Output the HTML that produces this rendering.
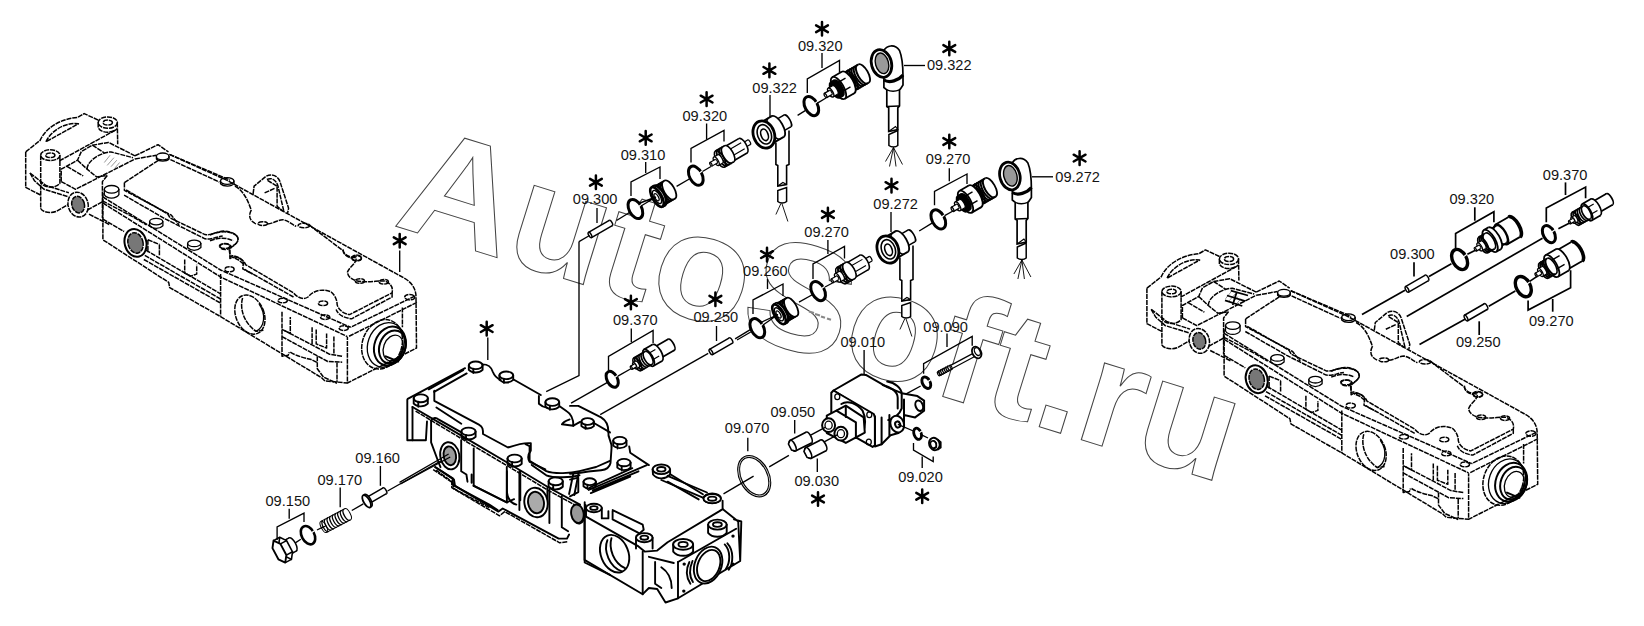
<!DOCTYPE html>
<html><head><meta charset="utf-8"><title>diagram</title>
<style>
html,body{margin:0;padding:0;background:#fff;}
body{width:1644px;height:626px;overflow:hidden;font-family:"Liberation Sans",sans-serif;}
svg{display:block}
.wm{font-family:"Liberation Sans",sans-serif;font-size:152px;font-weight:bold;fill:none;stroke:#444;stroke-width:1}
.lb{font-family:"Liberation Sans",sans-serif;font-size:14.6px;fill:#111}
.st{stroke:#000;stroke-width:2.5;fill:none;stroke-linecap:round}
.s{stroke:#000;stroke-width:1.3;fill:none;stroke-linejoin:round;stroke-linecap:round}
.sw{stroke:#000;stroke-width:1.3;fill:#fff;stroke-linejoin:round;stroke-linecap:round}
.t{stroke:#000;stroke-width:1.35;fill:none}
.d{stroke:#000;stroke-width:1.5;fill:none;stroke-dasharray:5 0.9;stroke-linejoin:round}
.dw{stroke:#000;stroke-width:1.5;fill:#fff;stroke-dasharray:5 0.9;stroke-linejoin:round}
.k{stroke:#000;stroke-width:2;fill:none;stroke-linejoin:round;stroke-linecap:round}
.kw{stroke:#000;stroke-width:2;fill:#fff;stroke-linejoin:round;stroke-linecap:round}
.f{fill:#000;stroke:none}
.r{stroke:#000;stroke-width:1.7;fill:none}
.c{stroke:#000;stroke-width:1.9;fill:none;stroke-linejoin:round;stroke-linecap:round}
.cw{stroke:#000;stroke-width:1.9;fill:#fff;stroke-linejoin:round}
</style></head><body>
<svg width="1644" height="626" viewBox="0 0 1644 626">
<rect width="1644" height="626" fill="#fff"/>
<text class="wm" transform="translate(392,225) rotate(17.3) scale(1.04,1)" x="0" y="0">AutoSoft.ru</text>
<g id="lb">
<path class="d" d="M 25.7 151.9 L 25.7 187.4 L 40.7 195.1" />
<path class="d" d="M 25.7 151.9 L 40.1 140.4 C 45.9 127.0 62.2 118.4 77.5 117.5 L 84.2 113.6 L 98.6 120.3" />
<path class="d" d="M 45.9 141.8 C 51.6 129.9 66.0 121.9 78.4 123.8 L 45.9 141.8" />
<ellipse class="d" cx="107.8" cy="122.6" rx="9.6" ry="5.7" />
<ellipse class="d" cx="107.8" cy="122.6" rx="4.6" ry="2.5" />
<path class="d" d="M 98.2 122.6 L 98.2 127.6 C 100.5 133.4 112.9 133.7 117.3 128.4" />
<path class="d" d="M 117.3 122.6 L 117.7 144.3" />
<path class="d" d="M 59.3 160.9 L 115.8 129.9" />
<ellipse class="d" cx="50.3" cy="155.2" rx="9.6" ry="5.4" />
<ellipse class="d" cx="50.3" cy="155.2" rx="4.6" ry="2.3" />
<path class="d" d="M 40.7 155.2 L 40.7 208.5 C 43.0 212.7 50.7 213.4 56.4 211.3 L 67.9 204.6" />
<path class="d" d="M 59.9 155.2 L 59.9 183.2 C 56.4 188.5 44.0 188.5 40.7 182.6" />
<path class="d" d="M 30.0 173.0 L 45.9 185.5 L 68.9 192.8" />
<path class="d" d="M 30.0 173.0 L 34.4 180.7 L 44.0 189.3 L 67.9 196.6" />
<path class="d" d="M 61.2 181.6 L 61.2 169.2 L 77.5 160.2 L 81.3 151.6 L 92.4 145.2 L 108.5 142.4 L 135.0 155.8" />
<path class="d" d="M 61.2 181.6 L 75.6 189.3 L 135.0 159.0" />
<path class="d" d="M 77.5 160.2 L 87.1 169.2 L 96.6 176.9 L 107.2 175.5" />
<path class="d" d="M 87.1 169.2 C 87.1 160.6 100.5 152.5 111.0 151.9 L 133.0 157.7" />
<path class="d" d="M 92.4 145.2 L 104.3 152.9" />
<path class="d" d="M 66.9 166.3 L 83.2 175.9" />
<g stroke="#999" stroke-width="1" fill="none">
<path class="" d="M 104.3 162.5 L 110.1 155.2 M 107.2 165.4 L 113.9 157.7 M 111.0 166.7 L 116.8 160.2 M 114.8 168.2 L 119.6 162.5" />
</g>
<ellipse class="dw" cx="78.1" cy="204.6" rx="10.0" ry="12.6" transform="rotate(-15 78.1 204.6)" />
<ellipse class="d" cx="78.1" cy="204.6" rx="6.3" ry="8.4" transform="rotate(-15 78.1 204.6)" style="fill:#777"/>
<path class="d" d="M 87.4 210.0 L 102.4 201.8" />
<path class="d" d="M 89.0 214.2 L 110.1 224.9" />
<path class="d" d="M 107.2 175.5 L 102.4 181.6 L 102.4 218.0" />
<ellipse class="s" cx="111.6" cy="189.3" rx="7.3" ry="3.8" />
<path class="s" d="M 104.3 189.3 L 104.3 194.7 C 107.2 199.3 115.8 199.3 118.9 194.7 L 118.9 189.3" />
<path class="d" d="M 135.0 155.8 L 158.0 144.7 L 168.5 151.9" />
<ellipse class="s" cx="162.7" cy="156.4" rx="6.3" ry="3.4" />
<path class="s" d="M 156.4 156.4 L 156.4 159.0 C 158.9 161.7 166.6 161.7 169.1 159.0 L 169.1 156.4" />
<path class="d" d="M 169.5 154.4 L 230.0 180.1" />
<path class="d" d="M 170.4 159.6 L 219.3 182.0" />
<path class="d" d="M 135.0 159.0 L 156.4 155.2" />
<path class="d" d="M 124.4 182.6 L 158.0 160.6" />
<path class="d" d="M 124.4 182.6 L 124.4 190.3 L 171.4 215.2 L 179.0 224.9" />
<path class="d" d="M 102.4 200.8 L 135.0 218.0 L 146.5 224.9" />
<path class="d" d="M 169.5 154.4 L 227.2 180.4 L 380.5 265.0 L 404.0 278.0 C 413.0 283.0 416.0 290.0 416.0 297.0 L 416.5 348.0 L 347.4 383.0 L 347.4 337.0" />
<ellipse class="s" cx="227.2" cy="181.0" rx="6.7" ry="3.4" />
<path class="s" d="M 220.5 181.0 L 220.5 183.7 C 223.4 186.8 231.5 186.8 234.0 183.7 L 234.0 181.0" />
<path class="d" d="M 234.9 186.2 C 242.6 190.0 247.4 198.7 251.2 210.1 C 248.3 215.9 249.3 220.7 256.0 223.9" />
<ellipse class="d" cx="262.7" cy="223.6" rx="4.8" ry="1.9" />
<path class="d" d="M 267.5 223.9 C 273.2 223.6 277.1 220.1 282.8 219.7 C 288.6 220.7 291.4 224.5 296.2 226.4" />
<ellipse class="d" cx="303.9" cy="225.5" rx="5.7" ry="2.3" />
<path class="d" d="M 309.6 225.1 L 313.5 228.3 L 343.2 250.8 C 343.2 254.2 347.0 257.1 352.7 258.4" />
<ellipse class="d" cx="356.6" cy="258.0" rx="4.8" ry="2.9" />
<path class="d" d="M 253.1 193.9 L 254.1 186.2 L 265.6 176.6 C 270.4 173.4 277.1 174.7 279.9 181.4 L 288.6 208.2 L 287.6 213.0" />
<path class="d" d="M 266.9 179.5 C 271.3 177.2 276.1 179.5 278.0 186.2 L 283.8 211.1" />
<path class="d" d="M 267.5 180.4 L 277.1 186.2 L 277.1 206.3 L 282.8 211.1" />
<path class="d" d="M 264.6 192.9 L 275.1 188.1" />
<path class="d" d="M 210.0 235.1 C 217.7 231.2 229.2 230.3 235.9 235.1 C 240.7 239.3 236.8 244.6 231.1 246.6" />
<ellipse class="d" cx="225.3" cy="246.6" rx="5.4" ry="2.9" />
<path class="d" d="M 210.0 240.8 C 217.7 237.4 227.2 237.4 233.0 240.8" />
<path class="d" d="M 229.2 249.4 L 230.1 256.1 L 238.7 260.0 L 244.5 264.9" />
<path class="d" d="M 102.9 197.0 L 220.6 270.0 L 350.5 327.3" />
<path class="d" d="M 102.9 203.0 L 220.6 277.0 L 347.4 336.6" />
<path class="d" d="M 102.9 193.0 L 102.9 239.8 L 168.7 282.4 L 169.7 287.6 L 220.6 316.6 L 321.6 377.7 L 325.0 381.0 L 347.4 383.0" />
<path class="d" d="M 102.9 219.1 L 124.1 231.5" />
<ellipse class="sw" cx="135.5" cy="242.9" rx="10.8" ry="14.1" transform="rotate(-15 135.5 242.9)" style="stroke-width:2"/>
<ellipse class="d" cx="135.5" cy="242.9" rx="7.5" ry="10.4" transform="rotate(-15 135.5 242.9)" style="fill:#777"/>
<path class="d" d="M 145.9 250.2 L 220.6 293.8" />
<path class="d" d="M 144.8 255.4 L 220.6 299.0" />
<path class="d" d="M 143.8 259.5 L 220.6 303.1" />
<path class="d" d="M 147.9 239.8 L 147.9 252.3 M 159.4 244.4 L 159.4 256.0 M 147.9 239.8 L 159.4 244.4" />
<path class="d" d="M 184.7 259.5 L 184.7 273.0 L 190.5 276.2 L 196.7 274.1 L 196.7 264.7" />
<path class="d" d="M 220.6 274.1 L 220.6 316.6" />
<path class="d" d="M 126.1 190.0 L 167.7 213.9 L 170.2 218.0 L 205.0 234.6 C 211.3 235.7 215.4 231.5 223.7 231.1 C 234.1 231.5 240.3 236.7 237.2 241.9 C 235.1 245.6 232.0 246.1 229.9 249.2 L 229.9 258.5 C 235.1 255.4 241.4 257.5 243.4 262.7 L 242.8 268.9 L 252.8 274.1" />
<path class="d" d="M 124.1 195.2 L 165.6 219.1 L 205.0 238.8 C 211.3 239.8 216.4 236.7 222.7 236.1" />
<ellipse class="d" cx="224.7" cy="246.1" rx="5.2" ry="2.5" />
<ellipse class="d" cx="229.5" cy="269.3" rx="4.6" ry="2.5" />
<ellipse class="s" cx="156.2" cy="221.6" rx="6.6" ry="3.3" />
<path class="s" d="M 149.6 221.6 L 149.6 225.7 C 153.1 229.4 159.4 229.4 162.9 225.7 L 162.9 221.6" />
<ellipse class="s" cx="194.2" cy="243.4" rx="6.6" ry="3.3" />
<path class="s" d="M 187.6 243.4 L 187.6 247.5 C 191.1 251.2 197.3 251.2 200.9 247.5 L 200.9 243.4" />
<path class="d" d="M 343.3 249.3 C 342.3 254.4 349.6 257.6 355.8 257.6 C 357.9 262.7 349.6 265.9 347.5 272.1 C 347.5 277.3 353.7 281.4 362.0 281.4 C 370.3 282.5 378.6 280.4 384.9 281.0 C 391.1 283.5 393.2 287.7 392.1 292.8 L 349.6 314.6 C 343.3 313.6 338.1 309.5 337.1 304.3 C 337.1 299.1 334.0 293.9 330.9 291.8 C 322.6 288.7 314.3 289.7 308.0 297.0 C 303.9 300.1 297.7 298.0 293.5 292.8 L 245.8 264.8 C 242.6 258.6 237.5 256.5 231.2 255.5" />
<path class="d" d="M 392.1 292.8 L 392.1 297.0 L 351.6 318.8 C 343.3 317.8 338.1 314.6 336.1 309.5" />
<path class="d" d="M 293.5 297.0 L 244.7 269.4" />
<ellipse class="d" cx="356.8" cy="258.2" rx="4.6" ry="2.3" />
<ellipse class="d" cx="359.9" cy="281.0" rx="4.6" ry="2.3" />
<ellipse class="d" cx="383.8" cy="281.8" rx="4.6" ry="2.3" />
<ellipse class="d" cx="282.7" cy="300.5" rx="4.6" ry="2.3" />
<ellipse class="d" cx="323.0" cy="303.2" rx="4.6" ry="2.3" />
<ellipse class="d" cx="325.1" cy="317.1" rx="4.6" ry="2.3" />
<ellipse class="d" cx="343.7" cy="328.1" rx="4.6" ry="2.3" />
<ellipse class="d" cx="249.9" cy="314.6" rx="14.1" ry="20.3" transform="rotate(-22 249.9 314.6)" />
<path class="d" d="M 242.6 298.0 C 239.5 308.4 243.7 323.0 256.1 331.3 L 263.4 330.2" />
<path class="s" d="M 256.1 331.3 C 264.4 327.1 266.5 314.6 259.3 304.3" />
<path class="d" d="M 416.9 302.4 L 348.4 336.6" />
<path class="d" d="M 414.9 296.1 L 350.5 327.3" />
<ellipse class="d" cx="409.7" cy="297.2" rx="5.0" ry="2.7" />
<path class="d" d="M 402.4 307.6 L 402.4 327.3" />
<path class="d" d="M 282.0 311.7 L 282.0 356.3 L 288.2 355.3 L 289.3 352.2" />
<path class="d" d="M 282.0 329.4 L 290.3 333.5 L 290.3 316.9" />
<path class="d" d="M 282.0 336.6 L 327.7 361.5 L 342.2 362.2" />
<path class="d" d="M 284.1 330.4 L 312.1 344.9 L 329.7 354.3 L 342.2 356.3" />
<path class="d" d="M 312.1 327.3 L 312.1 344.9" />
<path class="d" d="M 316.2 329.4 L 316.2 343.9 L 326.6 348.0 L 326.6 333.5" />
<path class="d" d="M 333.9 336.6 L 333.9 354.3" />
<path class="d" d="M 317.3 356.3 L 317.3 368.8 L 323.5 377.1 L 337.0 383.3" />
<path class="d" d="M 290.3 352.2 C 296.5 356.3 306.9 358.4 311.1 359.5 L 317.3 362.6" />
<path class="d" d="M 337.0 362.6 L 337.0 382.3" />
<ellipse class="d" cx="382.1" cy="344.3" rx="19.7" ry="25.3" transform="rotate(20 382.1 344.3)" />
<ellipse class="s" cx="385.8" cy="344.9" rx="17.9" ry="22.8" transform="rotate(20 385.8 344.9)" />
<ellipse class="k" cx="389.9" cy="346.0" rx="15.4" ry="19.9" transform="rotate(20 389.9 346.0)" />
<ellipse class="k" cx="392.4" cy="347.0" rx="12.9" ry="17.0" transform="rotate(20 392.4 347.0)" />
<ellipse class="s" cx="393.1" cy="348.0" rx="9.5" ry="13.3" transform="rotate(20 393.1 348.0)" />
<path class="k" d="M 385.8 356.3 L 398.2 361.5 M 387.9 362.6 C 394.1 364.6 400.3 358.4 403.4 348.0" />
</g>
<g id="cb">
<path class="c" d="M 407.3 399.7 L 407.3 440.2 L 412.5 440.2" />
<path class="c" d="M 412.5 407.0 L 412.5 440.2 L 425.9 440.2 L 427.0 421.5" />
<path class="c" d="M 434.3 390.8 L 434.3 400.8 L 478.9 424.6 C 483.0 426.7 483.0 429.8 483.0 434.0 L 508.0 447.5 C 516.3 444.8 524.6 442.3 530.8 443.3 L 530.8 450.6 C 527.7 454.7 527.7 458.9 529.7 462.0 L 545.3 469.3" />
<path class="c" d="M 412.5 407.0 L 462.3 436.1 L 508.0 463.0 L 549.5 488.0 L 580.0 504.6" />
<path class="d" d="M 415.6 411.1 L 462.3 439.2 L 508.0 466.2 L 549.5 491.1 L 580.0 507.7" />
<path class="c" d="M 431.1 420.5 C 433.2 417.4 436.3 417.4 438.4 419.4 L 462.3 432.9" />
<path class="c" d="M 431.1 420.5 L 431.1 442.3 L 438.4 462.0 L 440.5 467.2" />
<ellipse class="cw" cx="420.8" cy="398.3" rx="7.1" ry="3.9" />
<path class="c" d="M 413.7 398.3 L 413.7 403.7 C 417.2 407.2 424.3 407.2 427.8 403.7 L 427.8 398.3 M 418.3 401.8 L 418.3 406.8" />
<ellipse class="cw" cx="468.5" cy="431.5" rx="7.1" ry="3.9" />
<path class="c" d="M 461.4 431.5 L 461.4 436.9 C 465.0 440.4 472.0 440.4 475.6 436.9 L 475.6 431.5 M 466.0 435.0 L 466.0 440.1" />
<ellipse class="cw" cx="514.6" cy="458.5" rx="7.1" ry="3.9" />
<path class="c" d="M 507.5 458.5 L 507.5 463.9 C 511.1 467.4 518.1 467.4 521.7 463.9 L 521.7 458.5 M 512.1 462.0 L 512.1 467.0" />
<ellipse class="cw" cx="555.7" cy="481.3" rx="7.1" ry="3.9" />
<path class="c" d="M 548.6 481.3 L 548.6 486.7 C 552.2 490.2 559.2 490.2 562.8 486.7 L 562.8 481.3 M 553.2 484.8 L 553.2 489.9" />
<path class="c" d="M 461.2 440.2 L 461.2 471.3 L 466.4 474.5 L 467.5 481.7 M 471.6 474.5 L 471.6 482.8 M 473.7 448.5 L 473.7 485.9" />
<ellipse class="cw" cx="449.8" cy="455.8" rx="9.5" ry="13.7" transform="rotate(-10 449.8 455.8)" />
<ellipse class="c" cx="449.8" cy="455.8" rx="6.2" ry="9.5" transform="rotate(-10 449.8 455.8)" style="fill:#999"/>
<path class="s" d="M 400.0 482.1 L 448.2 454.3 M 401.0 483.8 L 449.8 457.2" />
<path class="c" d="M 435.3 467.2 L 441.5 471.3 L 454.0 479.6 L 455.0 485.9 L 462.3 490.0 L 489.3 504.6 L 497.6 510.0" />
<path class="d" d="M 433.2 469.7 L 452.9 482.8 L 453.6 488.4 L 462.3 493.1 L 489.3 507.7" />
<path class="c" d="M 473.7 485.9 L 506.9 502.5 L 506.9 471.3" />
<path class="c" d="M 506.9 492.1 C 508.0 500.4 512.1 503.5 516.3 504.6" />
<path class="c" d="M 519.4 471.3 L 519.4 510.0 M 547.4 488.0 L 547.4 504.6" />
<ellipse class="cw" cx="536.0" cy="502.5" rx="11.6" ry="14.9" transform="rotate(-10 536.0 502.5)" />
<ellipse class="c" cx="536.0" cy="502.5" rx="7.9" ry="10.8" transform="rotate(-10 536.0 502.5)" style="fill:#aaa"/>
<path class="c" d="M 407.7 398.9 L 465.1 368.2" />
<path class="c" d="M 428.7 389.3 L 463.2 370.1" />
<path class="c" d="M 434.1 391.8 L 466.7 373.4" />
<ellipse class="cw" cx="475.7" cy="365.3" rx="6.9" ry="3.8" />
<path class="c" d="M 468.8 365.3 L 468.8 369.9 C 472.2 373.4 479.1 373.4 482.6 369.9 L 482.6 365.3 M 473.3 368.8 L 473.3 373.0" />
<ellipse class="cw" cx="506.3" cy="375.3" rx="6.9" ry="3.8" />
<path class="c" d="M 499.4 375.3 L 499.4 379.9 C 502.9 383.3 509.8 383.3 513.2 379.9 L 513.2 375.3 M 503.9 378.7 L 503.9 383.0" />
<ellipse class="cw" cx="552.3" cy="402.1" rx="6.9" ry="3.8" />
<path class="c" d="M 545.4 402.1 L 545.4 406.7 C 548.9 410.2 555.8 410.2 559.2 406.7 L 559.2 402.1 M 549.9 405.6 L 549.9 409.8" />
<path class="c" d="M 482.4 364.4 C 488.1 364.4 491.0 366.3 492.9 372.0 C 494.8 376.8 497.7 378.7 500.6 379.7" />
<path class="c" d="M 514.0 379.7 L 540.8 395.0" />
<path class="c" d="M 538.9 396.0 L 538.9 403.7 C 541.8 406.5 544.7 407.5 547.5 407.9" />
<path class="c" d="M 560.0 406.5 L 566.7 411.3 C 571.5 414.2 573.4 419.0 573.4 425.7 L 561.9 424.3 C 562.9 421.9 565.7 420.9 569.6 419.4" />
<path class="c" d="M 573.4 425.7 L 580.1 421.9 M 593.5 422.8 L 610.0 432.4" />
<path class="c" d="M 436.4 407.5 L 461.3 423.8" />
<path class="c" d="M 570.0 405.9 L 578.3 405.9 L 601.1 417.4 C 606.3 420.5 608.4 425.7 608.4 431.9" />
<ellipse class="cw" cx="587.6" cy="421.5" rx="6.2" ry="3.4" />
<path class="c" d="M 581.4 421.5 L 581.4 426.1 C 584.5 429.2 590.8 429.2 593.9 426.1 L 593.9 421.5 M 585.5 424.6 L 585.5 428.9" />
<ellipse class="cw" cx="619.8" cy="440.6" rx="6.6" ry="3.7" />
<path class="c" d="M 613.2 440.6 L 613.2 445.6 C 616.5 448.9 623.1 448.9 626.5 445.6 L 626.5 440.6 M 617.5 443.9 L 617.5 448.6" />
<ellipse class="cw" cx="624.0" cy="462.6" rx="6.6" ry="3.7" />
<path class="c" d="M 617.3 462.6 L 617.3 467.6 C 620.7 470.9 627.3 470.9 630.6 467.6 L 630.6 462.6 M 621.7 465.9 L 621.7 470.6" />
<ellipse class="cw" cx="589.7" cy="481.7" rx="6.2" ry="3.4" />
<path class="c" d="M 583.5 481.7 L 583.5 486.3 C 586.6 489.4 592.8 489.4 595.9 486.3 L 595.9 481.7 M 587.5 484.8 L 587.5 489.1" />
<path class="c" d="M 629.2 446.4 L 630.2 452.7 L 648.9 465.1" />
<ellipse class="cw" cx="661.3" cy="469.3" rx="8.7" ry="4.8" />
<ellipse class="c" cx="661.3" cy="469.3" rx="4.2" ry="2.3" />
<path class="c" d="M 652.6 469.3 L 653.0 474.5 C 657.2 479.6 665.5 479.6 670.1 474.5 L 670.1 469.3" />
<path class="c" d="M 670.7 474.5 L 702.9 494.2 M 667.6 481.7 L 698.7 499.4" />
<ellipse class="cw" cx="712.2" cy="498.3" rx="8.7" ry="4.8" />
<ellipse class="c" cx="712.2" cy="498.3" rx="4.2" ry="2.3" />
<path class="c" d="M 608.4 431.9 C 607.4 438.1 612.6 442.3 611.5 448.5 L 610.5 463.0 C 609.4 468.2 606.3 469.7 601.1 470.3 L 590.8 471.3 C 582.5 472.4 576.2 473.4 570.0 473.8" />
<path class="c" d="M 588.7 490.0 L 646.8 465.1 M 589.7 487.5 L 632.3 468.2 M 592.8 490.4 L 638.5 471.3 M 590.8 493.1 L 630.2 476.5" />
<path class="c" d="M 570.0 479.6 L 578.3 477.6 L 578.3 492.1 L 570.0 496.3" />
<path class="c" d="M 585.6 504.9 L 585.6 516.3 L 638.5 546.4 L 644.7 551.6 L 657.2 550.6 L 667.6 542.3 L 719.5 511.1 L 722.6 509.1 L 722.6 500.8" />
<path class="c" d="M 661.3 480.0 L 702.9 497.6" />
<path class="c" d="M 667.6 475.8 L 707.0 492.5" />
<path class="c" d="M 612.6 510.1 L 612.6 519.4 L 638.5 532.9 M 612.6 510.1 L 642.7 524.6 L 643.7 529.8 L 636.4 536.1" />
<ellipse class="cw" cx="593.9" cy="508.0" rx="7.9" ry="4.2" />
<ellipse class="c" cx="593.9" cy="508.0" rx="3.7" ry="1.9" />
<path class="c" d="M 586.0 508.0 L 586.0 516.3 M 601.8 508.0 L 601.8 518.4 L 608.4 518.4 L 608.4 511.1" />
<ellipse class="cw" cx="644.3" cy="537.7" rx="8.3" ry="4.6" />
<ellipse class="c" cx="644.3" cy="537.7" rx="3.9" ry="2.1" />
<path class="c" d="M 636.0 537.7 L 636.0 548.5 M 652.6 537.7 L 652.6 548.5" />
<ellipse class="cw" cx="683.1" cy="544.4" rx="10.0" ry="5.4" />
<ellipse class="c" cx="683.1" cy="544.4" rx="4.6" ry="2.5" />
<path class="c" d="M 673.2 544.4 L 673.2 551.6 C 678.0 557.2 688.3 557.2 693.1 551.6 L 693.1 544.4" />
<ellipse class="cw" cx="717.4" cy="524.6" rx="9.3" ry="5.0" />
<ellipse class="c" cx="717.4" cy="524.6" rx="4.4" ry="2.3" />
<path class="c" d="M 708.1 524.6 L 708.1 532.9 C 712.2 538.1 722.6 538.1 726.7 532.9 L 726.7 524.6" />
<ellipse class="cw" cx="712.2" cy="498.7" rx="8.7" ry="4.6" />
<ellipse class="c" cx="712.2" cy="498.7" rx="4.2" ry="2.1" />
<path class="c" d="M 584.5 516.3 L 584.5 559.9 L 642.7 594.2 L 642.7 551.6" />
<ellipse class="cw" cx="614.6" cy="553.7" rx="13.7" ry="19.5" transform="rotate(-22 614.6 553.7)" />
<path class="c" d="M 607.4 540.2 C 603.2 550.6 609.4 567.2 621.9 571.3 M 611.5 538.1 C 608.4 548.5 613.6 563.0 625.0 568.2" />
<path class="c" d="M 642.7 594.2 L 648.9 588.0 L 657.2 589.0 L 665.5 602.5 L 678.0 598.3 L 678.0 562.0" />
<path class="c" d="M 678.0 598.3 L 740.2 561.0 L 738.2 521.5 L 722.6 509.1 M 678.0 562.0 L 736.1 528.8 M 734.0 519.4 L 741.3 521.5 L 740.2 561.0" />
<ellipse class="cw" cx="708.1" cy="565.1" rx="13.3" ry="19.1" transform="rotate(22 708.1 565.1)" />
<ellipse class="c" cx="708.7" cy="565.5" rx="10.8" ry="16.2" transform="rotate(22 708.7 565.5)" />
<path class="c" d="M 689.4 562.0 C 685.8 569.3 686.3 577.6 690.4 583.8 M 692.5 561.0 C 689.0 569.3 689.4 576.5 692.9 582.1" />
<path class="c" d="M 724.7 544.4 C 730.9 550.6 730.3 563.0 725.7 569.3 M 727.4 543.3 C 734.0 550.6 733.4 563.0 728.8 569.7" />
<ellipse class="f" cx="684.2" cy="564.1" rx="1.7" ry="1.7" />
<ellipse class="f" cx="683.8" cy="591.1" rx="1.7" ry="1.7" />
<ellipse class="f" cx="733.0" cy="536.1" rx="1.7" ry="1.7" />
<ellipse class="f" cx="733.0" cy="564.1" rx="1.7" ry="1.7" />
<path class="c" d="M 655.1 562.0 L 655.1 583.8 L 661.3 588.0 M 661.3 567.2 C 667.6 571.3 671.7 577.6 671.7 588.0 M 648.9 556.8 L 673.8 563.0" />
<ellipse class="c" cx="578.3" cy="515.3" rx="5.8" ry="8.3" transform="rotate(-10 578.3 515.3)" style="fill:#999"/>
<path class="c" d="M 435.2 467.0 L 452.8 478.4 L 452.8 484.6 L 498.5 511.6 L 502.7 508.5 L 558.7 538.6 L 567.0 538.6 L 569.1 534.5" />
<path class="d" d="M 436.2 470.1 L 451.8 481.5 L 451.8 487.7 L 499.5 515.8 L 504.7 511.6 L 559.7 542.8 L 568.1 541.7" />
<path class="c" d="M 473.6 485.7 L 506.8 502.3 L 514.1 499.2" />
<path class="c" d="M 506.8 467.0 L 506.8 498.1 M 520.3 471.1 L 520.3 500.2" />
<path class="c" d="M 549.4 489.8 L 549.4 523.0 M 561.8 496.1 L 561.8 527.2 L 568.1 531.3" />
<ellipse class="c" cx="577.4" cy="513.7" rx="6.2" ry="9.3" transform="rotate(-10 577.4 513.7)" style="fill:#999"/>
<path class="c" d="M 584.7 502.3 L 584.7 562.5 L 610.0 574.9" />
<path class="c" d="M 525.5 444.2 L 529.6 446.2 L 529.6 460.8 L 546.3 471.1 C 554.6 474.3 571.2 473.2 579.5 471.1 L 596.1 467.0 L 610.0 460.8" />
<path class="c" d="M 531.7 464.9 L 546.3 475.3 C 554.6 478.4 571.2 477.4 579.5 475.3" />
<path class="c" d="M 573.2 474.3 L 569.1 494.0 M 578.4 474.3 L 574.3 495.0" />
</g>
<use href="#lb" transform="translate(1121.2,136.3)"/>
<path d="M1230.8,290.7 L1248,295.5 M1227,295.5 L1245.2,301.2 M1225,300.3 L1242.3,306 M1236.6,292.6 L1232.7,305" stroke="#000" stroke-width="1.8" fill="none"/>
<g transform="translate(590.0,235.0) rotate(-30) scale(1)"><ellipse cx="24" cy="0" rx="1.3" ry="3" fill="#fff" stroke="#000" stroke-width="1.5"/><rect x="0" y="-3" width="24" height="6" fill="#fff"/><path d="M0,-3L24,-3M0,3L24,3" stroke="#000" stroke-width="1.5" fill="none"/><ellipse cx="0" cy="0" rx="1.3" ry="3" fill="#fff" stroke="#000" stroke-width="1.5"/></g>
<path class="t" d="M597,208 L597,223"/>
<path class="t" d="M589.5,235.5 L579,241.6"/>
<ellipse cx="635.4" cy="209" rx="6.3" ry="10.3" transform="rotate(-28 635.4 209)" fill="#fff" stroke="#000" stroke-width="3.0"/>
<path d="M636.7,208.0 L643.2,203.3" stroke="#fff" stroke-width="1.2" fill="none"/>
<path class="t" d="M645.7,162 L645.7,173"/>
<path class="t" d="M631,196 L631,182 L660,167 L660,179"/>
<g transform="translate(657.0,197.0) rotate(-30) scale(1)"><ellipse cx="15" cy="0" rx="4.3" ry="10.3" fill="#fff" stroke="#000" stroke-width="1.8"/><rect x="3" y="-10.3" width="12" height="20.6" fill="#fff"/><path d="M3,-10.3L15,-10.3M3,10.3L15,10.3" stroke="#000" stroke-width="1.8" fill="none"/><ellipse cx="3" cy="0" rx="4.3" ry="10.3" fill="#fff" stroke="#000" stroke-width="1.8"/><path d="M5,-10.3A4.3,10.3 0 0 0 5,10.3" stroke="#000" stroke-width="2.0" fill="none"/><path d="M7,-10.3A4.3,10.3 0 0 0 7,10.3" stroke="#000" stroke-width="2.0" fill="none"/><path d="M9,-10.3A4.3,10.3 0 0 0 9,10.3" stroke="#000" stroke-width="2.0" fill="none"/><path d="M11,-10.3A4.3,10.3 0 0 0 11,10.3" stroke="#000" stroke-width="2.0" fill="none"/><path d="M13,-10.3A4.3,10.3 0 0 0 13,10.3" stroke="#000" stroke-width="2.0" fill="none"/><ellipse cx="3" cy="0" rx="4.6" ry="11" fill="#fff" stroke="#000" stroke-width="2.6"/><rect x="0" y="-11" width="3" height="22" fill="#fff"/><path d="M0,-11L3,-11M0,11L3,11" stroke="#000" stroke-width="2.6" fill="none"/><ellipse cx="0" cy="0" rx="4.6" ry="11" fill="#fff" stroke="#000" stroke-width="2.6"/><ellipse cx="0" cy="0" rx="3.2" ry="7.4" fill="#fff" stroke="#000" stroke-width="1.4"/><ellipse cx="-0.5" cy="0" rx="1.8" ry="4" fill="#fff" stroke="#000" stroke-width="1.2"/></g>
<path class="t" d="M616.5,220.5 L629.5,212.5"/>
<path class="t" d="M640,203 L656,197 L641,206"/>
<ellipse cx="695.8" cy="175.7" rx="6.3" ry="10.3" transform="rotate(-28 695.8 175.7)" fill="#fff" stroke="#000" stroke-width="3.0"/>
<path d="M697.1,174.7 L703.6,170.0" stroke="#fff" stroke-width="1.2" fill="none"/>
<path class="t" d="M706.6,123.5 L706.6,139.5"/>
<path class="t" d="M691,162.5 L691,148.5 L724,130.5 L724,141.5"/>
<g transform="translate(710.9,164.3) rotate(-30) scale(0.88)"><ellipse cx="50" cy="0" rx="1.3" ry="3" fill="#fff" stroke="#000" stroke-width="1.4"/><rect x="40" y="-3" width="10" height="6" fill="#fff"/><path d="M40,-3L50,-3M40,3L50,3" stroke="#000" stroke-width="1.4" fill="none"/><ellipse cx="40" cy="0" rx="1.3" ry="3" fill="#fff" stroke="#000" stroke-width="1.4"/><ellipse cx="42" cy="0" rx="4.0" ry="9.5" fill="#fff" stroke="#000" stroke-width="1.8"/><rect x="24" y="-9.5" width="18" height="19.0" fill="#fff"/><path d="M24,-9.5L42,-9.5M24,9.5L42,9.5" stroke="#000" stroke-width="1.8" fill="none"/><ellipse cx="24" cy="0" rx="4.0" ry="9.5" fill="#fff" stroke="#000" stroke-width="1.8"/><path d="M24,-4L42,-4M24,4L42,4" stroke="#000" stroke-width="1.3"/><ellipse cx="24" cy="0" rx="4.4" ry="10.5" fill="#fff" stroke="#000" stroke-width="1.8"/><rect x="12" y="-10.5" width="12" height="21.0" fill="#fff"/><path d="M12,-10.5L24,-10.5M12,10.5L24,10.5" stroke="#000" stroke-width="1.8" fill="none"/><ellipse cx="12" cy="0" rx="4.4" ry="10.5" fill="#fff" stroke="#000" stroke-width="1.8"/><path d="M15,-10.5A4.4,10.5 0 0 0 15,10.5" stroke="#000" stroke-width="2.2" fill="none"/><path d="M18,-10.5A4.4,10.5 0 0 0 18,10.5" stroke="#000" stroke-width="2.2" fill="none"/><path d="M21,-10.5A4.4,10.5 0 0 0 21,10.5" stroke="#000" stroke-width="2.2" fill="none"/><ellipse cx="12" cy="0" rx="2.3" ry="5.5" fill="#fff" stroke="#000" stroke-width="1.5"/><rect x="7" y="-5.5" width="5" height="11.0" fill="#fff"/><path d="M7,-5.5L12,-5.5M7,5.5L12,5.5" stroke="#000" stroke-width="1.5" fill="none"/><ellipse cx="7" cy="0" rx="2.3" ry="5.5" fill="#fff" stroke="#000" stroke-width="1.5"/><ellipse cx="7" cy="0" rx="1.0" ry="2.4" fill="#fff" stroke="#000" stroke-width="1.3"/><rect x="0" y="-2.4" width="7" height="4.8" fill="#fff"/><path d="M0,-2.4L7,-2.4M0,2.4L7,2.4" stroke="#000" stroke-width="1.3" fill="none"/><ellipse cx="0" cy="0" rx="1.0" ry="2.4" fill="#fff" stroke="#000" stroke-width="1.3"/></g>
<path class="t" d="M676.6,186.3 L689.3,179"/>
<path class="t" d="M702.5,171.5 L711,166.5"/>
<g transform="translate(763.9,134.5) rotate(0) scale(1)"><path d="M12,8 L12,30 L13.9,31 L13.9,51.5 L22.7,50 L22.7,31 L25.1,30 L25.1,-4" fill="#fff" stroke="#000" stroke-width="1.6"/><path d="M13.9,56 L13.9,67 C16,69 20.5,69 22.7,67 L22.7,53 Z" fill="#fff" stroke="#000" stroke-width="1.5"/><path d="M13.9,51.5 L19,48 L22.7,50" stroke="#000" stroke-width="1.2" fill="none"/><path d="M17,69 L12,80 M18,69 L24,87" stroke="#000" stroke-width="0.9" fill="none"/></g>
<g transform="translate(763.9,134.5) rotate(-30) scale(1)"><ellipse cx="27" cy="0" rx="2.9" ry="6.8" fill="#fff" stroke="#000" stroke-width="1.6"/><rect x="16" y="-6.8" width="11" height="13.6" fill="#fff"/><path d="M16,-6.8L27,-6.8M16,6.8L27,6.8" stroke="#000" stroke-width="1.6" fill="none"/><ellipse cx="16" cy="0" rx="2.9" ry="6.8" fill="#fff" stroke="#000" stroke-width="1.6"/><ellipse cx="16" cy="0" rx="5.0" ry="12" fill="#fff" stroke="#000" stroke-width="1.8"/><rect x="2" y="-12" width="14" height="24" fill="#fff"/><path d="M2,-12L16,-12M2,12L16,12" stroke="#000" stroke-width="1.8" fill="none"/><ellipse cx="2" cy="0" rx="5.0" ry="12" fill="#fff" stroke="#000" stroke-width="1.8"/><path d="M12,-12A5.0,12 0 0 0 12,12" stroke="#000" stroke-width="1.6" fill="none"/></g>
<g transform="translate(763.9,134.5) rotate(0) scale(1)"><ellipse cx="0" cy="0" rx="10.5" ry="14" transform="rotate(-20)" fill="#fff" stroke="#000" stroke-width="2.8"/><ellipse cx="0.5" cy="0" rx="6.8" ry="10" transform="rotate(-20)" fill="#fff" stroke="#000" stroke-width="1.6"/><ellipse cx="0.5" cy="0.5" rx="3.5" ry="6" transform="rotate(-20)" fill="none" stroke="#000" stroke-width="1.6"/></g>
<path class="t" d="M770,95 L770,117"/>
<ellipse cx="811.3" cy="106.1" rx="6.3" ry="10.3" transform="rotate(-28 811.3 106.1)" fill="#fff" stroke="#000" stroke-width="3.0"/>
<path d="M812.6,105.1 L819.1,100.4" stroke="#fff" stroke-width="1.2" fill="none"/>
<path class="t" d="M822,53 L822,68"/>
<path class="t" d="M807.3,93 L807.3,79 L839.5,60.5 L839.5,72.5"/>
<g transform="translate(825.5,95.5) rotate(-30) scale(1.0)"><ellipse cx="44" cy="0" rx="4.4" ry="10.5" fill="#fff" stroke="#000" stroke-width="1.8"/><rect x="30" y="-10.5" width="14" height="21.0" fill="#fff"/><path d="M30,-10.5L44,-10.5M30,10.5L44,10.5" stroke="#000" stroke-width="1.8" fill="none"/><ellipse cx="30" cy="0" rx="4.4" ry="10.5" fill="#fff" stroke="#000" stroke-width="1.8"/><path d="M32.5,-10.5A4.4,10.5 0 0 0 32.5,10.5" stroke="#000" stroke-width="2.0" fill="none"/><path d="M35,-10.5A4.4,10.5 0 0 0 35,10.5" stroke="#000" stroke-width="2.0" fill="none"/><path d="M37.5,-10.5A4.4,10.5 0 0 0 37.5,10.5" stroke="#000" stroke-width="2.0" fill="none"/><path d="M40,-10.5A4.4,10.5 0 0 0 40,10.5" stroke="#000" stroke-width="2.0" fill="none"/><path d="M42.5,-10.5A4.4,10.5 0 0 0 42.5,10.5" stroke="#000" stroke-width="2.0" fill="none"/><ellipse cx="30" cy="0" rx="2.9" ry="7" fill="#000" stroke="#000" stroke-width="1.6"/><rect x="26" y="-7" width="4" height="14" fill="#000"/><path d="M26,-7L30,-7M26,7L30,7" stroke="#000" stroke-width="1.6" fill="none"/><ellipse cx="26" cy="0" rx="2.9" ry="7" fill="#000" stroke="#000" stroke-width="1.6"/><ellipse cx="26" cy="0" rx="5.2" ry="12.5" fill="#fff" stroke="#000" stroke-width="1.8"/><rect x="15" y="-12.5" width="11" height="25.0" fill="#fff"/><path d="M15,-12.5L26,-12.5M15,12.5L26,12.5" stroke="#000" stroke-width="1.8" fill="none"/><ellipse cx="15" cy="0" rx="5.2" ry="12.5" fill="#fff" stroke="#000" stroke-width="1.8"/><path d="M15,-5L26,-5M15,5L26,5" stroke="#000" stroke-width="1.4"/><ellipse cx="15" cy="0" rx="3.8" ry="9" fill="#000" stroke="#000" stroke-width="1.6"/><rect x="11" y="-9" width="4" height="18" fill="#000"/><path d="M11,-9L15,-9M11,9L15,9" stroke="#000" stroke-width="1.6" fill="none"/><ellipse cx="11" cy="0" rx="3.8" ry="9" fill="#000" stroke="#000" stroke-width="1.6"/><ellipse cx="11" cy="0" rx="2.1" ry="5" fill="#fff" stroke="#000" stroke-width="1.4"/><rect x="6" y="-5" width="5" height="10" fill="#fff"/><path d="M6,-5L11,-5M6,5L11,5" stroke="#000" stroke-width="1.4" fill="none"/><ellipse cx="6" cy="0" rx="2.1" ry="5" fill="#fff" stroke="#000" stroke-width="1.4"/><ellipse cx="6" cy="0" rx="1.0" ry="2.4" fill="#fff" stroke="#000" stroke-width="1.3"/><rect x="0" y="-2.4" width="6" height="4.8" fill="#fff"/><path d="M0,-2.4L6,-2.4M0,2.4L6,2.4" stroke="#000" stroke-width="1.3" fill="none"/><ellipse cx="0" cy="0" rx="1.0" ry="2.4" fill="#fff" stroke="#000" stroke-width="1.3"/></g>
<path class="t" d="M797.6,115.3 L805.2,110.7"/>
<path class="t" d="M817.4,103.2 L826,98"/>
<g transform="translate(881.5,63.5) rotate(0) scale(1)"><path d="M2.4,-13 C5,-18 13,-20 18,-13 C20.5,-7 21.5,0 21.5,13 L21.5,21.5 L19.1,25.2 L18,26.3 L18,42.5 L16.3,44.3 L16.3,66 L7.2,68 L7.2,44.3 L5.3,43 L5.3,26.3 L2.4,24 Z" fill="#fff" stroke="#000" stroke-width="1.7"/><path d="M2.4,16.5 C8,20 17,17 21.5,11.5" fill="none" stroke="#000" stroke-width="3.2"/><path d="M5.3,26.3 C9,28 14,28 18,26.3 M5.3,43 L18,42.5" fill="none" stroke="#000" stroke-width="1.4"/><path d="M7.4,71 L7.4,82 C10,84 14,84 16.3,82 L16.3,67 Z" fill="#fff" stroke="#000" stroke-width="1.5"/><path d="M7.2,68 L14,63 L16.3,66" fill="none" stroke="#000" stroke-width="1.2"/><path d="M12,84 L4,98 M12,84 L8,103 M12,84 L14.5,103 M12,84 L21,101" stroke="#000" stroke-width="0.9" fill="none"/><ellipse cx="0" cy="0" rx="10" ry="14" transform="rotate(-15)" fill="#fff" stroke="#000" stroke-width="2.8"/><ellipse cx="0.5" cy="0" rx="6.5" ry="10.5" transform="rotate(-15)" fill="#999" stroke="#000" stroke-width="1.4"/></g>
<path class="t" d="M904,65.5 L925,65.5"/>
<ellipse cx="757.3" cy="328.2" rx="6.3" ry="10.3" transform="rotate(-28 757.3 328.2)" fill="#fff" stroke="#000" stroke-width="3.0"/>
<path d="M758.6,327.2 L765.1,322.5" stroke="#fff" stroke-width="1.2" fill="none"/>
<path class="t" d="M767.5,279 L767.5,289"/>
<path class="t" d="M753,314 L753,300 L783,284 L783,296"/>
<g transform="translate(779.0,314.3) rotate(-30) scale(1)"><ellipse cx="15" cy="0" rx="4.3" ry="10.3" fill="#fff" stroke="#000" stroke-width="1.8"/><rect x="3" y="-10.3" width="12" height="20.6" fill="#fff"/><path d="M3,-10.3L15,-10.3M3,10.3L15,10.3" stroke="#000" stroke-width="1.8" fill="none"/><ellipse cx="3" cy="0" rx="4.3" ry="10.3" fill="#fff" stroke="#000" stroke-width="1.8"/><path d="M5,-10.3A4.3,10.3 0 0 0 5,10.3" stroke="#000" stroke-width="2.0" fill="none"/><path d="M7,-10.3A4.3,10.3 0 0 0 7,10.3" stroke="#000" stroke-width="2.0" fill="none"/><path d="M9,-10.3A4.3,10.3 0 0 0 9,10.3" stroke="#000" stroke-width="2.0" fill="none"/><path d="M11,-10.3A4.3,10.3 0 0 0 11,10.3" stroke="#000" stroke-width="2.0" fill="none"/><path d="M13,-10.3A4.3,10.3 0 0 0 13,10.3" stroke="#000" stroke-width="2.0" fill="none"/><ellipse cx="3" cy="0" rx="4.6" ry="11" fill="#fff" stroke="#000" stroke-width="2.6"/><rect x="0" y="-11" width="3" height="22" fill="#fff"/><path d="M0,-11L3,-11M0,11L3,11" stroke="#000" stroke-width="2.6" fill="none"/><ellipse cx="0" cy="0" rx="4.6" ry="11" fill="#fff" stroke="#000" stroke-width="2.6"/><ellipse cx="0" cy="0" rx="3.2" ry="7.4" fill="#fff" stroke="#000" stroke-width="1.4"/><ellipse cx="-0.5" cy="0" rx="1.8" ry="4" fill="#fff" stroke="#000" stroke-width="1.2"/></g>
<path class="t" d="M737,340 L750.7,332"/>
<path class="t" d="M762,322 L778,314.5 L763,325"/>
<ellipse cx="818.1" cy="291.1" rx="6.3" ry="10.3" transform="rotate(-28 818.1 291.1)" fill="#fff" stroke="#000" stroke-width="3.0"/>
<path d="M819.4,290.1 L825.9,285.4" stroke="#fff" stroke-width="1.2" fill="none"/>
<path class="t" d="M827.9,240 L827.9,254"/>
<path class="t" d="M813,279 L813,264 L844.5,246.5 L844.5,258.5"/>
<g transform="translate(832.2,280.9) rotate(-30) scale(0.88)"><ellipse cx="50" cy="0" rx="1.3" ry="3" fill="#fff" stroke="#000" stroke-width="1.4"/><rect x="40" y="-3" width="10" height="6" fill="#fff"/><path d="M40,-3L50,-3M40,3L50,3" stroke="#000" stroke-width="1.4" fill="none"/><ellipse cx="40" cy="0" rx="1.3" ry="3" fill="#fff" stroke="#000" stroke-width="1.4"/><ellipse cx="42" cy="0" rx="4.0" ry="9.5" fill="#fff" stroke="#000" stroke-width="1.8"/><rect x="24" y="-9.5" width="18" height="19.0" fill="#fff"/><path d="M24,-9.5L42,-9.5M24,9.5L42,9.5" stroke="#000" stroke-width="1.8" fill="none"/><ellipse cx="24" cy="0" rx="4.0" ry="9.5" fill="#fff" stroke="#000" stroke-width="1.8"/><path d="M24,-4L42,-4M24,4L42,4" stroke="#000" stroke-width="1.3"/><ellipse cx="24" cy="0" rx="4.4" ry="10.5" fill="#fff" stroke="#000" stroke-width="1.8"/><rect x="12" y="-10.5" width="12" height="21.0" fill="#fff"/><path d="M12,-10.5L24,-10.5M12,10.5L24,10.5" stroke="#000" stroke-width="1.8" fill="none"/><ellipse cx="12" cy="0" rx="4.4" ry="10.5" fill="#fff" stroke="#000" stroke-width="1.8"/><path d="M15,-10.5A4.4,10.5 0 0 0 15,10.5" stroke="#000" stroke-width="2.2" fill="none"/><path d="M18,-10.5A4.4,10.5 0 0 0 18,10.5" stroke="#000" stroke-width="2.2" fill="none"/><path d="M21,-10.5A4.4,10.5 0 0 0 21,10.5" stroke="#000" stroke-width="2.2" fill="none"/><ellipse cx="12" cy="0" rx="2.3" ry="5.5" fill="#fff" stroke="#000" stroke-width="1.5"/><rect x="7" y="-5.5" width="5" height="11.0" fill="#fff"/><path d="M7,-5.5L12,-5.5M7,5.5L12,5.5" stroke="#000" stroke-width="1.5" fill="none"/><ellipse cx="7" cy="0" rx="2.3" ry="5.5" fill="#fff" stroke="#000" stroke-width="1.5"/><ellipse cx="7" cy="0" rx="1.0" ry="2.4" fill="#fff" stroke="#000" stroke-width="1.3"/><rect x="0" y="-2.4" width="7" height="4.8" fill="#fff"/><path d="M0,-2.4L7,-2.4M0,2.4L7,2.4" stroke="#000" stroke-width="1.3" fill="none"/><ellipse cx="0" cy="0" rx="1.0" ry="2.4" fill="#fff" stroke="#000" stroke-width="1.3"/></g>
<path class="t" d="M799,302.1 L811.8,295"/>
<path class="t" d="M825,287 L832.5,283"/>
<path d="M809,311.5 l5,1.5 M815,314 l5,1.5 M821,316.5 l4,1.3 M827,318.5 l4,1.3" stroke="#888" stroke-width="2.2" fill="none"/>
<g transform="translate(887.9,249.5) rotate(0) scale(1)"><path d="M12,8 L12,30 L13.9,31 L13.9,51.5 L22.7,50 L22.7,31 L25.1,30 L25.1,-4" fill="#fff" stroke="#000" stroke-width="1.6"/><path d="M13.9,56 L13.9,67 C16,69 20.5,69 22.7,67 L22.7,53 Z" fill="#fff" stroke="#000" stroke-width="1.5"/><path d="M13.9,51.5 L19,48 L22.7,50" stroke="#000" stroke-width="1.2" fill="none"/><path d="M17,69 L12,80 M18,69 L24,87" stroke="#000" stroke-width="0.9" fill="none"/></g>
<g transform="translate(887.9,249.5) rotate(-30) scale(1)"><ellipse cx="27" cy="0" rx="2.9" ry="6.8" fill="#fff" stroke="#000" stroke-width="1.6"/><rect x="16" y="-6.8" width="11" height="13.6" fill="#fff"/><path d="M16,-6.8L27,-6.8M16,6.8L27,6.8" stroke="#000" stroke-width="1.6" fill="none"/><ellipse cx="16" cy="0" rx="2.9" ry="6.8" fill="#fff" stroke="#000" stroke-width="1.6"/><ellipse cx="16" cy="0" rx="5.0" ry="12" fill="#fff" stroke="#000" stroke-width="1.8"/><rect x="2" y="-12" width="14" height="24" fill="#fff"/><path d="M2,-12L16,-12M2,12L16,12" stroke="#000" stroke-width="1.8" fill="none"/><ellipse cx="2" cy="0" rx="5.0" ry="12" fill="#fff" stroke="#000" stroke-width="1.8"/><path d="M12,-12A5.0,12 0 0 0 12,12" stroke="#000" stroke-width="1.6" fill="none"/></g>
<g transform="translate(887.9,249.5) rotate(0) scale(1)"><ellipse cx="0" cy="0" rx="10.5" ry="14" transform="rotate(-20)" fill="#fff" stroke="#000" stroke-width="2.8"/><ellipse cx="0.5" cy="0" rx="6.8" ry="10" transform="rotate(-20)" fill="#fff" stroke="#000" stroke-width="1.6"/><ellipse cx="0.5" cy="0.5" rx="3.5" ry="6" transform="rotate(-20)" fill="none" stroke="#000" stroke-width="1.6"/></g>
<path class="t" d="M891,212 L891,232"/>
<ellipse cx="938.3" cy="219.4" rx="6.3" ry="10.3" transform="rotate(-28 938.3 219.4)" fill="#fff" stroke="#000" stroke-width="3.0"/>
<path d="M939.6,218.4 L946.1,213.7" stroke="#fff" stroke-width="1.2" fill="none"/>
<path class="t" d="M949.3,168.3 L949.3,181.3"/>
<path class="t" d="M934.5,205.3 L934.5,191.3 L967,174 L967,184"/>
<g transform="translate(952.5,209.3) rotate(-30) scale(1.0)"><ellipse cx="44" cy="0" rx="4.4" ry="10.5" fill="#fff" stroke="#000" stroke-width="1.8"/><rect x="30" y="-10.5" width="14" height="21.0" fill="#fff"/><path d="M30,-10.5L44,-10.5M30,10.5L44,10.5" stroke="#000" stroke-width="1.8" fill="none"/><ellipse cx="30" cy="0" rx="4.4" ry="10.5" fill="#fff" stroke="#000" stroke-width="1.8"/><path d="M32.5,-10.5A4.4,10.5 0 0 0 32.5,10.5" stroke="#000" stroke-width="2.0" fill="none"/><path d="M35,-10.5A4.4,10.5 0 0 0 35,10.5" stroke="#000" stroke-width="2.0" fill="none"/><path d="M37.5,-10.5A4.4,10.5 0 0 0 37.5,10.5" stroke="#000" stroke-width="2.0" fill="none"/><path d="M40,-10.5A4.4,10.5 0 0 0 40,10.5" stroke="#000" stroke-width="2.0" fill="none"/><path d="M42.5,-10.5A4.4,10.5 0 0 0 42.5,10.5" stroke="#000" stroke-width="2.0" fill="none"/><ellipse cx="30" cy="0" rx="2.9" ry="7" fill="#000" stroke="#000" stroke-width="1.6"/><rect x="26" y="-7" width="4" height="14" fill="#000"/><path d="M26,-7L30,-7M26,7L30,7" stroke="#000" stroke-width="1.6" fill="none"/><ellipse cx="26" cy="0" rx="2.9" ry="7" fill="#000" stroke="#000" stroke-width="1.6"/><ellipse cx="26" cy="0" rx="5.2" ry="12.5" fill="#fff" stroke="#000" stroke-width="1.8"/><rect x="15" y="-12.5" width="11" height="25.0" fill="#fff"/><path d="M15,-12.5L26,-12.5M15,12.5L26,12.5" stroke="#000" stroke-width="1.8" fill="none"/><ellipse cx="15" cy="0" rx="5.2" ry="12.5" fill="#fff" stroke="#000" stroke-width="1.8"/><path d="M15,-5L26,-5M15,5L26,5" stroke="#000" stroke-width="1.4"/><ellipse cx="15" cy="0" rx="3.8" ry="9" fill="#000" stroke="#000" stroke-width="1.6"/><rect x="11" y="-9" width="4" height="18" fill="#000"/><path d="M11,-9L15,-9M11,9L15,9" stroke="#000" stroke-width="1.6" fill="none"/><ellipse cx="11" cy="0" rx="3.8" ry="9" fill="#000" stroke="#000" stroke-width="1.6"/><ellipse cx="11" cy="0" rx="2.1" ry="5" fill="#fff" stroke="#000" stroke-width="1.4"/><rect x="6" y="-5" width="5" height="10" fill="#fff"/><path d="M6,-5L11,-5M6,5L11,5" stroke="#000" stroke-width="1.4" fill="none"/><ellipse cx="6" cy="0" rx="2.1" ry="5" fill="#fff" stroke="#000" stroke-width="1.4"/><ellipse cx="6" cy="0" rx="1.0" ry="2.4" fill="#fff" stroke="#000" stroke-width="1.3"/><rect x="0" y="-2.4" width="6" height="4.8" fill="#fff"/><path d="M0,-2.4L6,-2.4M0,2.4L6,2.4" stroke="#000" stroke-width="1.3" fill="none"/><ellipse cx="0" cy="0" rx="1.0" ry="2.4" fill="#fff" stroke="#000" stroke-width="1.3"/></g>
<path class="t" d="M919.2,231 L932,223.2"/>
<path class="t" d="M944.7,215.6 L953,211"/>
<g transform="translate(1009.9,176.0) rotate(0) scale(1)"><path d="M2.4,-13 C5,-18 13,-20 18,-13 C20.5,-7 21.5,0 21.5,13 L21.5,21.5 L19.1,25.2 L18,26.3 L18,42.5 L16.3,44.3 L16.3,66 L7.2,68 L7.2,44.3 L5.3,43 L5.3,26.3 L2.4,24 Z" fill="#fff" stroke="#000" stroke-width="1.7"/><path d="M2.4,16.5 C8,20 17,17 21.5,11.5" fill="none" stroke="#000" stroke-width="3.2"/><path d="M5.3,26.3 C9,28 14,28 18,26.3 M5.3,43 L18,42.5" fill="none" stroke="#000" stroke-width="1.4"/><path d="M7.4,71 L7.4,82 C10,84 14,84 16.3,82 L16.3,67 Z" fill="#fff" stroke="#000" stroke-width="1.5"/><path d="M7.2,68 L14,63 L16.3,66" fill="none" stroke="#000" stroke-width="1.2"/><path d="M12,84 L4,98 M12,84 L8,103 M12,84 L14.5,103 M12,84 L21,101" stroke="#000" stroke-width="0.9" fill="none"/><ellipse cx="0" cy="0" rx="10" ry="14" transform="rotate(-15)" fill="#fff" stroke="#000" stroke-width="2.8"/><ellipse cx="0.5" cy="0" rx="6.5" ry="10.5" transform="rotate(-15)" fill="#999" stroke="#000" stroke-width="1.4"/></g>
<path class="t" d="M1032,176.8 L1053,176.8"/>
<path class="t" d="M579,241.6 L579,375.5 L546.2,391.7"/>
<path class="t" d="M631.3,328.4 L631.3,341.9"/>
<path class="t" d="M608.5,369.9 L608.5,356.4 L653.1,330.5 L653.1,343.0"/>
<ellipse cx="612.2" cy="379.3" rx="5.2" ry="8.6" transform="rotate(-28 612.2 379.3)" fill="#fff" stroke="#000" stroke-width="3.0"/>
<path d="M613.2,378.4 L618.9,374.6" stroke="#fff" stroke-width="1.2" fill="none"/>
<g transform="translate(631.3,367.8) rotate(-30) scale(1)"><ellipse cx="46" cy="0" rx="2.6" ry="6.3" fill="#fff" stroke="#000" stroke-width="1.7"/><rect x="30" y="-6.3" width="16" height="12.6" fill="#fff"/><path d="M30,-6.3L46,-6.3M30,6.3L46,6.3" stroke="#000" stroke-width="1.7" fill="none"/><ellipse cx="30" cy="0" rx="2.6" ry="6.3" fill="#fff" stroke="#000" stroke-width="1.7"/><ellipse cx="30" cy="0" rx="4.0" ry="9.5" fill="#fff" stroke="#000" stroke-width="1.7"/><rect x="20" y="-9.5" width="10" height="19.0" fill="#fff"/><path d="M20,-9.5L30,-9.5M20,9.5L30,9.5" stroke="#000" stroke-width="1.7" fill="none"/><ellipse cx="20" cy="0" rx="4.0" ry="9.5" fill="#fff" stroke="#000" stroke-width="1.7"/><path d="M20,-3.8L30,-3.8M20,3.8L30,3.8" stroke="#000" stroke-width="1.2"/><ellipse cx="20" cy="0" rx="3.1" ry="7.3" fill="#fff" stroke="#000" stroke-width="1.6"/><rect x="7" y="-7.3" width="13" height="14.6" fill="#fff"/><path d="M7,-7.3L20,-7.3M7,7.3L20,7.3" stroke="#000" stroke-width="1.6" fill="none"/><ellipse cx="7" cy="0" rx="3.1" ry="7.3" fill="#fff" stroke="#000" stroke-width="1.6"/><path d="M9.2,-7.3A3.1,7.3 0 0 0 9.2,7.3" stroke="#000" stroke-width="1.7" fill="none"/><path d="M11.6,-7.3A3.1,7.3 0 0 0 11.6,7.3" stroke="#000" stroke-width="1.7" fill="none"/><path d="M14,-7.3A3.1,7.3 0 0 0 14,7.3" stroke="#000" stroke-width="1.7" fill="none"/><path d="M16.4,-7.3A3.1,7.3 0 0 0 16.4,7.3" stroke="#000" stroke-width="1.7" fill="none"/><path d="M18.8,-7.3A3.1,7.3 0 0 0 18.8,7.3" stroke="#000" stroke-width="1.7" fill="none"/><ellipse cx="7" cy="0" rx="1.5" ry="3.5" fill="#fff" stroke="#000" stroke-width="1.3"/><rect x="4" y="-3.5" width="3" height="7.0" fill="#fff"/><path d="M4,-3.5L7,-3.5M4,3.5L7,3.5" stroke="#000" stroke-width="1.3" fill="none"/><ellipse cx="4" cy="0" rx="1.5" ry="3.5" fill="#fff" stroke="#000" stroke-width="1.3"/><ellipse cx="4.5" cy="0" rx="0.8" ry="1.8" fill="#fff" stroke="#000" stroke-width="1.2"/><rect x="0" y="-1.8" width="4.5" height="3.6" fill="#fff"/><path d="M0,-1.8L4.5,-1.8M0,1.8L4.5,1.8" stroke="#000" stroke-width="1.2" fill="none"/><ellipse cx="0" cy="0" rx="0.8" ry="1.8" fill="#fff" stroke="#000" stroke-width="1.2"/></g>
<path class="t" d="M571.1,403.1 L607.5,382.4"/>
<path class="t" d="M617.9,376.2 L631.3,368.5"/>
<path class="t" d="M716.5,326 L716.5,341"/>
<g transform="translate(711.0,352.0) rotate(-30) scale(1)"><ellipse cx="23" cy="0" rx="1.3" ry="3.1" fill="#fff" stroke="#000" stroke-width="1.5"/><rect x="0" y="-3.1" width="23" height="6.2" fill="#fff"/><path d="M0,-3.1L23,-3.1M0,3.1L23,3.1" stroke="#000" stroke-width="1.5" fill="none"/><ellipse cx="0" cy="0" rx="1.3" ry="3.1" fill="#fff" stroke="#000" stroke-width="1.5"/></g>
<path class="t" d="M600.2,414.6 L708.2,353.3"/>
<path class="t" d="M735.1,338.8 L750.7,329.4"/>
<path class="t" d="M864.1,350 L864.1,374"/>
<path class="t" d="M947,333.5 L947,347"/>
<path class="t" d="M923.6,373.8 L923.6,363.7 L972.2,336.4 L972.2,345.8"/>
<ellipse cx="926.3" cy="382.7" rx="3.8" ry="6.2" transform="rotate(-28 926.3 382.7)" fill="#fff" stroke="#000" stroke-width="2.9"/>
<path d="M927.1,382.1 L931.6,379.3" stroke="#fff" stroke-width="1.2" fill="none"/>
<path class="t" d="M906.2,393.9 L920.7,386"/>
<g transform="translate(938.6,373.8) rotate(-28.1) scale(1)"><ellipse cx="14" cy="0" rx="0.9" ry="2.2" fill="#fff" stroke="#000" stroke-width="1.2"/><rect x="0" y="-2.2" width="14" height="4.4" fill="#fff"/><path d="M0,-2.2L14,-2.2M0,2.2L14,2.2" stroke="#000" stroke-width="1.2" fill="none"/><ellipse cx="0" cy="0" rx="0.9" ry="2.2" fill="#fff" stroke="#000" stroke-width="1.2"/><path d="M2,-2.6A1.1,2.6 0 0 0 2,2.6" stroke="#000" stroke-width="1.3" fill="none"/><path d="M4,-2.6A1.1,2.6 0 0 0 4,2.6" stroke="#000" stroke-width="1.3" fill="none"/><path d="M6,-2.6A1.1,2.6 0 0 0 6,2.6" stroke="#000" stroke-width="1.3" fill="none"/><path d="M8,-2.6A1.1,2.6 0 0 0 8,2.6" stroke="#000" stroke-width="1.3" fill="none"/><path d="M10,-2.6A1.1,2.6 0 0 0 10,2.6" stroke="#000" stroke-width="1.3" fill="none"/><path d="M12,-2.6A1.1,2.6 0 0 0 12,2.6" stroke="#000" stroke-width="1.3" fill="none"/><ellipse cx="40" cy="0" rx="0.8" ry="1.8" fill="#fff" stroke="#000" stroke-width="1.2"/><rect x="14" y="-1.8" width="26" height="3.6" fill="#fff"/><path d="M14,-1.8L40,-1.8M14,1.8L40,1.8" stroke="#000" stroke-width="1.2" fill="none"/><ellipse cx="14" cy="0" rx="0.8" ry="1.8" fill="#fff" stroke="#000" stroke-width="1.2"/></g>
<g transform="translate(976.7,352.5) rotate(0) scale(1)"><ellipse cx="0" cy="0" rx="4.3" ry="6.2" transform="rotate(-28)" fill="#fff" stroke="#000" stroke-width="1.8"/><ellipse cx="1" cy="-0.5" rx="2.6" ry="4.2" transform="rotate(-28)" fill="#fff" stroke="#000" stroke-width="1.3"/></g>
<path class="kw" d="M 861.5 374.4 L 865.9 374.9 L 887.2 387.2 L 901.7 393.2 L 917.4 396.1 L 924.1 400.6 L 924.1 410.7 L 915.1 417.4 L 904.0 415.1 L 904.0 426.3 L 898.4 433.0 L 890.5 435.3 L 881.6 444.2 L 874.9 446.5 L 874.9 416.3 L 833.5 390.5 Z" />
<path class="kw" d="M 831.3 392.8 L 833.5 390.5 L 873.8 414.0 L 874.9 417.4 L 874.9 445.3 L 872.6 446.9 L 832.4 424.1 L 831.3 421.9 Z" />
<path class="k" d="M 887.2 381.6 C 895.0 382.7 901.7 388.3 901.7 393.9 L 901.7 408.4 C 899.5 415.1 892.8 419.6 888.3 420.1" />
<path class="k" d="M 882.7 384.9 C 890.5 386.5 897.7 391.7 897.7 397.7 L 897.7 408.4" />
<path class="k" d="M 881.6 417.4 L 881.6 444.2 M 889.4 415.1 L 889.4 435.3 M 904.0 415.1 L 904.0 399.5" />
<ellipse class="kw" cx="897.2" cy="424.1" rx="6.7" ry="8.5" transform="rotate(-20 897.2 424.1)" />
<ellipse class="k" cx="897.7" cy="424.5" rx="2.5" ry="3.1" transform="rotate(-20 897.7 424.5)" />
<ellipse class="k" cx="919.2" cy="405.7" rx="3.6" ry="5.4" transform="rotate(-20 919.2 405.7)" />
<ellipse class="s" cx="837.3" cy="396.8" rx="2.5" ry="2.9" />
<ellipse class="s" cx="869.3" cy="414.7" rx="2.5" ry="2.9" />
<ellipse class="s" cx="868.8" cy="442.0" rx="2.5" ry="2.9" />
<path class="k" d="M 841.3 404.0 C 848.0 399.5 857.0 404.0 862.6 410.7 C 865.9 417.4 865.9 426.3 862.6 433.0" />
<path class="kw" d="M 826.8 415.6 L 845.8 405.7 L 863.7 417.4 L 864.8 432.6 L 845.8 442.9 L 826.8 433.0 Z" />
<path class="k" d="M 836.4 410.7 L 855.9 422.3 L 855.9 438.0 M 845.8 405.7 L 845.8 416.9" />
<ellipse class="kw" cx="828.6" cy="425.2" rx="6.5" ry="6.9" />
<ellipse class="s" cx="828.6" cy="425.2" rx="3.6" ry="4.0" />
<ellipse class="kw" cx="840.9" cy="433.7" rx="6.5" ry="6.9" />
<ellipse class="s" cx="840.9" cy="433.7" rx="3.6" ry="4.0" />
<path class="t" d="M809.7,435.7 L825.2,427.4"/>
<path class="t" d="M824.2,441.9 L837.7,434.6"/>
<path class="t" d="M794.7,420 L794.7,433.6"/>
<path class="t" d="M817.3,458.5 L817.3,472"/>
<g transform="translate(790.0,447.1) rotate(-27) scale(1)"><ellipse cx="21" cy="0" rx="2.5" ry="6" fill="#fff" stroke="#000" stroke-width="1.7"/><rect x="3" y="-6" width="18" height="12" fill="#fff"/><path d="M3,-6L21,-6M3,6L21,6" stroke="#000" stroke-width="1.7" fill="none"/><ellipse cx="3" cy="0" rx="2.5" ry="6" fill="#fff" stroke="#000" stroke-width="1.7"/><path d="M3,-6 L0,-3.4 L0,3.4 L3,6" fill="#fff" stroke="#000" stroke-width="1.6"/></g>
<g transform="translate(805.5,454.4) rotate(-27) scale(1)"><ellipse cx="20" cy="0" rx="2.5" ry="6" fill="#fff" stroke="#000" stroke-width="1.7"/><rect x="3" y="-6" width="17" height="12" fill="#fff"/><path d="M3,-6L20,-6M3,6L20,6" stroke="#000" stroke-width="1.7" fill="none"/><ellipse cx="3" cy="0" rx="2.5" ry="6" fill="#fff" stroke="#000" stroke-width="1.7"/><path d="M3,-6 L0,-3.4 L0,3.4 L3,6" fill="#fff" stroke="#000" stroke-width="1.6"/></g>
<path class="t" d="M747.8,437.8 L747.8,451.3"/>
<ellipse cx="754.2" cy="476.2" rx="13.8" ry="21" transform="rotate(-27 754.2 476.2)" fill="none" stroke="#000" stroke-width="3"/>
<ellipse cx="754.2" cy="476.2" rx="13.8" ry="21" transform="rotate(-27 754.2 476.2)" fill="none" stroke="#fff" stroke-width="0.7"/>
<path class="t" d="M723.5,493.8 L753.6,476.2"/>
<path class="t" d="M769.2,466.8 L788.9,455.4"/>
<path class="t" d="M913.5,443 L913.5,450.2 L933.2,461.6 L933.2,456.4"/>
<path class="t" d="M922.2,456.4 L922.2,467.9"/>
<ellipse cx="917.6" cy="433.8" rx="3.6" ry="5.8" transform="rotate(-20 917.6 433.8)" fill="#fff" stroke="#000" stroke-width="2.8"/>
<path d="M918.3,433.2 L922.7,430.6" stroke="#fff" stroke-width="1.2" fill="none"/>
<g transform="translate(934.3,444.0) rotate(0) scale(1)"><ellipse cx="0" cy="0" rx="5.2" ry="6.3" transform="rotate(-20)" fill="#fff" stroke="#000" stroke-width="1.9"/><ellipse cx="-1" cy="0.3" rx="2.8" ry="3.8" transform="rotate(-20)" fill="#fff" stroke="#000" stroke-width="1.5"/><path d="M3,-5 L6.5,-2 L6.5,3.5 L3,6 M-1,-3.5 L2,-1 L2,3 L-1,4.2" fill="none" stroke="#000" stroke-width="1.6"/></g>
<path class="t" d="M897.9,424.3 L914.5,431.5"/>
<path class="t" d="M921,434.6 L928,438"/>
<path class="t" d="M380.4,466 L380.4,485.8"/>
<g transform="translate(366.6,501.3) rotate(-30) scale(1)"><ellipse cx="21" cy="0" rx="1.4" ry="3.3" fill="#fff" stroke="#000" stroke-width="1.5"/><rect x="2" y="-3.3" width="19" height="6.6" fill="#fff"/><path d="M2,-3.3L21,-3.3M2,3.3L21,3.3" stroke="#000" stroke-width="1.5" fill="none"/><ellipse cx="2" cy="0" rx="1.4" ry="3.3" fill="#fff" stroke="#000" stroke-width="1.5"/><ellipse cx="1.5" cy="0" rx="3" ry="7" fill="#fff" stroke="#000" stroke-width="1.6"/><ellipse cx="0" cy="0" rx="3" ry="7" fill="#fff" stroke="#000" stroke-width="1.8"/></g>
<path class="s" d="M388,490.7 L440.6,461.1"/>
<path class="t" d="M351.8,510.5 L363.3,503.9"/>
<path class="t" d="M340.2,487.5 L340.2,507.2"/>
<g transform="translate(323.8,526.9) rotate(-28) scale(1)"><ellipse cx="27" cy="0" rx="2.6" ry="6.2" fill="#fff" stroke="#000" stroke-width="1.0"/><rect x="0" y="-6.2" width="27" height="12.4" fill="#fff"/><path d="M0,-6.2L27,-6.2M0,6.2L27,6.2" stroke="#000" stroke-width="1.0" fill="none"/><ellipse cx="0" cy="0" rx="2.6" ry="6.2" fill="#fff" stroke="#000" stroke-width="1.0"/><path d="M2,-6.2A2.6,6.2 0 0 0 2,6.2" stroke="#000" stroke-width="1.3" fill="none"/><path d="M5,-6.2A2.6,6.2 0 0 0 5,6.2" stroke="#000" stroke-width="1.3" fill="none"/><path d="M8,-6.2A2.6,6.2 0 0 0 8,6.2" stroke="#000" stroke-width="1.3" fill="none"/><path d="M11,-6.2A2.6,6.2 0 0 0 11,6.2" stroke="#000" stroke-width="1.3" fill="none"/><path d="M14,-6.2A2.6,6.2 0 0 0 14,6.2" stroke="#000" stroke-width="1.3" fill="none"/><path d="M17,-6.2A2.6,6.2 0 0 0 17,6.2" stroke="#000" stroke-width="1.3" fill="none"/><path d="M20,-6.2A2.6,6.2 0 0 0 20,6.2" stroke="#000" stroke-width="1.3" fill="none"/><path d="M23,-6.2A2.6,6.2 0 0 0 23,6.2" stroke="#000" stroke-width="1.3" fill="none"/><path d="M26,-6.2A2.6,6.2 0 0 0 26,6.2" stroke="#000" stroke-width="1.3" fill="none"/><path d="M-3,0L2,0" stroke="#000" stroke-width="1.2"/></g>
<path class="t" d="M289.2,508.8 L289.2,518.8"/>
<path class="t" d="M277.1,539.9 L277.1,526.9 L304,513.1 L304,522.1"/>
<ellipse cx="308" cy="535.2" rx="6.3" ry="9.8" transform="rotate(-28 308 535.2)" fill="#fff" stroke="#000" stroke-width="2.6"/>
<path d="M309.3,534.2 L315.8,529.8" stroke="#fff" stroke-width="1.2" fill="none"/>
<path class="t" d="M294.2,543.6 L300.8,539.3"/>
<path class="t" d="M317,530 L323.8,526.6"/>
<g transform="translate(279.4,551.6) rotate(-28) scale(1)"><ellipse cx="15" cy="0" rx="3.1" ry="7.5" fill="#fff" stroke="#000" stroke-width="1.5"/><rect x="7" y="-7.5" width="8" height="15.0" fill="#fff"/><path d="M7,-7.5L15,-7.5M7,7.5L15,7.5" stroke="#000" stroke-width="1.5" fill="none"/><ellipse cx="7" cy="0" rx="3.1" ry="7.5" fill="#fff" stroke="#000" stroke-width="1.5"/><path d="M10,-7.5A3.1,7.5 0 0 0 10,7.5" stroke="#000" stroke-width="1.4" fill="none"/><path d="M12.5,-7.5A3.1,7.5 0 0 0 12.5,7.5" stroke="#000" stroke-width="1.4" fill="none"/><path d="M7,-12.5 L11.5,-6.3 L11.5,6.3 L7,12.5 L2.5,6.3 L2.5,-6.3 Z" fill="#fff" stroke="#000" stroke-width="1.6" stroke-linejoin="round"/><path d="M0,-12.5 L7,-12.5 M4.5,-6.3 L11.5,-6.3 M4.5,6.3 L11.5,6.3 M0,12.5 L7,12.5" stroke="#000" stroke-width="1.5"/><path d="M0,-12.5 L4.5,-6.3 L4.5,6.3 L0,12.5 L-4.5,6.3 L-4.5,-6.3 Z" fill="#fff" stroke="#000" stroke-width="1.9" stroke-linejoin="round"/></g>
<path class="r" d="M1565.5,182.4 L1565.5,195.0"/>
<path class="r" d="M1546.3,222.3 L1546.3,207.9 L1585.6,187.1 L1585.6,198.29999999999998"/>
<ellipse cx="1548.9" cy="234.1" rx="5.6" ry="9.2" transform="rotate(-28 1548.9 234.1)" fill="#fff" stroke="#000" stroke-width="3.0"/>
<path d="M1550.0,233.2 L1556.0,229.0" stroke="#fff" stroke-width="1.2" fill="none"/>
<g transform="translate(1569.6,222.3) rotate(-30) scale(1)"><ellipse cx="46" cy="0" rx="2.6" ry="6.3" fill="#fff" stroke="#000" stroke-width="1.7"/><rect x="30" y="-6.3" width="16" height="12.6" fill="#fff"/><path d="M30,-6.3L46,-6.3M30,6.3L46,6.3" stroke="#000" stroke-width="1.7" fill="none"/><ellipse cx="30" cy="0" rx="2.6" ry="6.3" fill="#fff" stroke="#000" stroke-width="1.7"/><ellipse cx="30" cy="0" rx="4.0" ry="9.5" fill="#fff" stroke="#000" stroke-width="1.7"/><rect x="20" y="-9.5" width="10" height="19.0" fill="#fff"/><path d="M20,-9.5L30,-9.5M20,9.5L30,9.5" stroke="#000" stroke-width="1.7" fill="none"/><ellipse cx="20" cy="0" rx="4.0" ry="9.5" fill="#fff" stroke="#000" stroke-width="1.7"/><path d="M20,-3.8L30,-3.8M20,3.8L30,3.8" stroke="#000" stroke-width="1.2"/><ellipse cx="20" cy="0" rx="3.1" ry="7.3" fill="#fff" stroke="#000" stroke-width="1.6"/><rect x="7" y="-7.3" width="13" height="14.6" fill="#fff"/><path d="M7,-7.3L20,-7.3M7,7.3L20,7.3" stroke="#000" stroke-width="1.6" fill="none"/><ellipse cx="7" cy="0" rx="3.1" ry="7.3" fill="#fff" stroke="#000" stroke-width="1.6"/><path d="M9.2,-7.3A3.1,7.3 0 0 0 9.2,7.3" stroke="#000" stroke-width="1.7" fill="none"/><path d="M11.6,-7.3A3.1,7.3 0 0 0 11.6,7.3" stroke="#000" stroke-width="1.7" fill="none"/><path d="M14,-7.3A3.1,7.3 0 0 0 14,7.3" stroke="#000" stroke-width="1.7" fill="none"/><path d="M16.4,-7.3A3.1,7.3 0 0 0 16.4,7.3" stroke="#000" stroke-width="1.7" fill="none"/><path d="M18.8,-7.3A3.1,7.3 0 0 0 18.8,7.3" stroke="#000" stroke-width="1.7" fill="none"/><ellipse cx="7" cy="0" rx="1.5" ry="3.5" fill="#fff" stroke="#000" stroke-width="1.3"/><rect x="4" y="-3.5" width="3" height="7.0" fill="#fff"/><path d="M4,-3.5L7,-3.5M4,3.5L7,3.5" stroke="#000" stroke-width="1.3" fill="none"/><ellipse cx="4" cy="0" rx="1.5" ry="3.5" fill="#fff" stroke="#000" stroke-width="1.3"/><ellipse cx="4.5" cy="0" rx="0.8" ry="1.8" fill="#fff" stroke="#000" stroke-width="1.2"/><rect x="0" y="-1.8" width="4.5" height="3.6" fill="#fff"/><path d="M0,-1.8L4.5,-1.8M0,1.8L4.5,1.8" stroke="#000" stroke-width="1.2" fill="none"/><ellipse cx="0" cy="0" rx="0.8" ry="1.8" fill="#fff" stroke="#000" stroke-width="1.2"/></g>
<path class="r" d="M1558.4,228.7 L1569.6,223"/>
<path class="r" d="M1406.7,316.5 L1542.5,238.2"/>
<path class="r" d="M1474.8,207.3 L1474.8,220.70000000000002"/>
<path class="r" d="M1455.6,249.5 L1455.6,233.5 L1493.9,211.7 L1493.9,222.29999999999998"/>
<ellipse cx="1459.6" cy="259.5" rx="7" ry="10.8" transform="rotate(-28 1459.6 259.5)" fill="#fff" stroke="#000" stroke-width="3.4"/>
<path d="M1461.0,258.4 L1468.1,253.6" stroke="#fff" stroke-width="1.2" fill="none"/>
<g transform="translate(1475.4,249.4) rotate(-30) scale(1)"><ellipse cx="45" cy="0" rx="4.8" ry="11.5" fill="#fff" stroke="#000" stroke-width="1.8"/><rect x="30" y="-11.5" width="15" height="23.0" fill="#fff"/><path d="M30,-11.5L45,-11.5M30,11.5L45,11.5" stroke="#000" stroke-width="1.8" fill="none"/><ellipse cx="30" cy="0" rx="4.8" ry="11.5" fill="#fff" stroke="#000" stroke-width="1.8"/><path d="M45,-11.5A4.8,11.5 0 0 1 45,11.5" stroke="#000" stroke-width="3.6" fill="none"/><ellipse cx="30" cy="0" rx="4.2" ry="10" fill="#fff" stroke="#000" stroke-width="1.6"/><rect x="22" y="-10" width="8" height="20" fill="#fff"/><path d="M22,-10L30,-10M22,10L30,10" stroke="#000" stroke-width="1.6" fill="none"/><ellipse cx="22" cy="0" rx="4.2" ry="10" fill="#fff" stroke="#000" stroke-width="1.6"/><path d="M24,-10A4.2,10 0 0 0 24,10" stroke="#000" stroke-width="2.0" fill="none"/><path d="M26,-10A4.2,10 0 0 0 26,10" stroke="#000" stroke-width="2.0" fill="none"/><path d="M28,-10A4.2,10 0 0 0 28,10" stroke="#000" stroke-width="2.0" fill="none"/><ellipse cx="22" cy="0" rx="5.2" ry="12.5" fill="#fff" stroke="#000" stroke-width="1.8"/><rect x="17" y="-12.5" width="5" height="25.0" fill="#fff"/><path d="M17,-12.5L22,-12.5M17,12.5L22,12.5" stroke="#000" stroke-width="1.8" fill="none"/><ellipse cx="17" cy="0" rx="5.2" ry="12.5" fill="#fff" stroke="#000" stroke-width="1.8"/><ellipse cx="17" cy="0" rx="3.8" ry="9" fill="#fff" stroke="#000" stroke-width="1.6"/><rect x="9" y="-9" width="8" height="18" fill="#fff"/><path d="M9,-9L17,-9M9,9L17,9" stroke="#000" stroke-width="1.6" fill="none"/><ellipse cx="9" cy="0" rx="3.8" ry="9" fill="#fff" stroke="#000" stroke-width="1.6"/><path d="M11,-9A3.8,9 0 0 0 11,9" stroke="#000" stroke-width="2.0" fill="none"/><path d="M13,-9A3.8,9 0 0 0 13,9" stroke="#000" stroke-width="2.0" fill="none"/><path d="M15,-9A3.8,9 0 0 0 15,9" stroke="#000" stroke-width="2.0" fill="none"/><ellipse cx="9" cy="0" rx="1.9" ry="4.5" fill="#fff" stroke="#000" stroke-width="1.3"/><rect x="5" y="-4.5" width="4" height="9.0" fill="#fff"/><path d="M5,-4.5L9,-4.5M5,4.5L9,4.5" stroke="#000" stroke-width="1.3" fill="none"/><ellipse cx="5" cy="0" rx="1.9" ry="4.5" fill="#fff" stroke="#000" stroke-width="1.3"/><ellipse cx="5" cy="0" rx="0.8" ry="2" fill="#fff" stroke="#000" stroke-width="1.2"/><rect x="0" y="-2" width="5" height="4" fill="#fff"/><path d="M0,-2L5,-2M0,2L5,2" stroke="#000" stroke-width="1.2" fill="none"/><ellipse cx="0" cy="0" rx="0.8" ry="2" fill="#fff" stroke="#000" stroke-width="1.2"/></g>
<path class="r" d="M1467.4,254.3 L1475.4,250.2"/>
<path class="r" d="M1429,276.6 L1451.4,263.8"/>
<path class="r" d="M1414,262.2 L1414,276.6"/>
<g transform="translate(1407.0,289.4) rotate(-30) scale(1)"><ellipse cx="23" cy="0" rx="1.3" ry="3.2" fill="#fff" stroke="#000" stroke-width="1.5"/><rect x="0" y="-3.2" width="23" height="6.4" fill="#fff"/><path d="M0,-3.2L23,-3.2M0,3.2L23,3.2" stroke="#000" stroke-width="1.5" fill="none"/><ellipse cx="0" cy="0" rx="1.3" ry="3.2" fill="#fff" stroke="#000" stroke-width="1.5"/></g>
<path class="r" d="M1362,314.6 L1405,290.3"/>
<path class="r" d="M1552.7,299 L1552.7,311.7"/>
<path class="r" d="M1528.1,300.5 L1528.1,310.1 L1570.6,287.8 L1570.6,270.2"/>
<ellipse cx="1523.3" cy="286.6" rx="7" ry="10.8" transform="rotate(-28 1523.3 286.6)" fill="#fff" stroke="#000" stroke-width="3.4"/>
<path d="M1524.7,285.5 L1531.8,280.7" stroke="#fff" stroke-width="1.2" fill="none"/>
<g transform="translate(1536.1,275.0) rotate(-30) scale(1)"><ellipse cx="47" cy="0" rx="4.6" ry="11" fill="#fff" stroke="#000" stroke-width="1.8"/><rect x="30" y="-11" width="17" height="22" fill="#fff"/><path d="M30,-11L47,-11M30,11L47,11" stroke="#000" stroke-width="1.8" fill="none"/><ellipse cx="30" cy="0" rx="4.6" ry="11" fill="#fff" stroke="#000" stroke-width="1.8"/><path d="M47,-11A4.6,11 0 0 1 47,11" stroke="#000" stroke-width="3.6" fill="none"/><ellipse cx="30" cy="0" rx="5.2" ry="12.5" fill="#fff" stroke="#000" stroke-width="1.8"/><rect x="18" y="-12.5" width="12" height="25.0" fill="#fff"/><path d="M18,-12.5L30,-12.5M18,12.5L30,12.5" stroke="#000" stroke-width="1.8" fill="none"/><ellipse cx="18" cy="0" rx="5.2" ry="12.5" fill="#fff" stroke="#000" stroke-width="1.8"/><path d="M18,-5L30,-5M18,5L30,5" stroke="#000" stroke-width="1.3"/><ellipse cx="18" cy="0" rx="3.7" ry="8.8" fill="#fff" stroke="#000" stroke-width="1.6"/><rect x="9" y="-8.8" width="9" height="17.6" fill="#fff"/><path d="M9,-8.8L18,-8.8M9,8.8L18,8.8" stroke="#000" stroke-width="1.6" fill="none"/><ellipse cx="9" cy="0" rx="3.7" ry="8.8" fill="#fff" stroke="#000" stroke-width="1.6"/><path d="M11,-8.8A3.7,8.8 0 0 0 11,8.8" stroke="#000" stroke-width="2.0" fill="none"/><path d="M13,-8.8A3.7,8.8 0 0 0 13,8.8" stroke="#000" stroke-width="2.0" fill="none"/><path d="M15,-8.8A3.7,8.8 0 0 0 15,8.8" stroke="#000" stroke-width="2.0" fill="none"/><path d="M17,-8.8A3.7,8.8 0 0 0 17,8.8" stroke="#000" stroke-width="2.0" fill="none"/><ellipse cx="9" cy="0" rx="1.9" ry="4.5" fill="#fff" stroke="#000" stroke-width="1.3"/><rect x="5" y="-4.5" width="4" height="9.0" fill="#fff"/><path d="M5,-4.5L9,-4.5M5,4.5L9,4.5" stroke="#000" stroke-width="1.3" fill="none"/><ellipse cx="5" cy="0" rx="1.9" ry="4.5" fill="#fff" stroke="#000" stroke-width="1.3"/><ellipse cx="5" cy="0" rx="0.8" ry="2" fill="#fff" stroke="#000" stroke-width="1.2"/><rect x="0" y="-2" width="5" height="4" fill="#fff"/><path d="M0,-2L5,-2M0,2L5,2" stroke="#000" stroke-width="1.2" fill="none"/><ellipse cx="0" cy="0" rx="0.8" ry="2" fill="#fff" stroke="#000" stroke-width="1.2"/></g>
<path class="r" d="M1529.7,281.4 L1536.7,276.6"/>
<path class="r" d="M1419.5,344.6 L1465.8,318.7"/>
<path class="r" d="M1488.8,306.3 L1515.3,291"/>
<path class="r" d="M1479.2,321.3 L1479.2,335"/>
<g transform="translate(1466.0,318.0) rotate(-30) scale(1)"><ellipse cx="23" cy="0" rx="1.3" ry="3.2" fill="#fff" stroke="#000" stroke-width="1.5"/><rect x="0" y="-3.2" width="23" height="6.4" fill="#fff"/><path d="M0,-3.2L23,-3.2M0,3.2L23,3.2" stroke="#000" stroke-width="1.5" fill="none"/><ellipse cx="0" cy="0" rx="1.3" ry="3.2" fill="#fff" stroke="#000" stroke-width="1.5"/></g>
<path class="t" d="M399.7,250.4 L399.7,272"/>
<path class="t" d="M487.8,337.5 L487.8,360"/>
<g opacity="0.99">
<text class="lb" x="797.9" y="50.5">09.320</text>
<text class="lb" x="926.9" y="70.3">09.322</text>
<text class="lb" x="752.3" y="93.0">09.322</text>
<text class="lb" x="682.5" y="121.2">09.320</text>
<text class="lb" x="620.7" y="160.0">09.310</text>
<text class="lb" x="572.8" y="204.3">09.300</text>
<text class="lb" x="925.8" y="164.2">09.270</text>
<text class="lb" x="1055.3" y="181.5">09.272</text>
<text class="lb" x="873.3" y="209.1">09.272</text>
<text class="lb" x="804.3" y="236.7">09.270</text>
<text class="lb" x="743.1" y="275.5">09.260</text>
<text class="lb" x="693.5" y="321.6">09.250</text>
<text class="lb" x="613.0" y="324.8">09.370</text>
<text class="lb" x="923.3" y="331.8">09.090</text>
<text class="lb" x="840.5" y="347.4">09.010</text>
<text class="lb" x="770.5" y="416.5">09.050</text>
<text class="lb" x="724.8" y="433.1">09.070</text>
<text class="lb" x="794.4" y="486.0">09.030</text>
<text class="lb" x="898.2" y="481.9">09.020</text>
<text class="lb" x="355.3" y="462.6">09.160</text>
<text class="lb" x="317.5" y="484.7">09.170</text>
<text class="lb" x="265.5" y="506.1">09.150</text>
<text class="lb" x="1542.8" y="179.7">09.370</text>
<text class="lb" x="1449.5" y="203.6">09.320</text>
<text class="lb" x="1390.1" y="258.9">09.300</text>
<text class="lb" x="1529.0" y="325.9">09.270</text>
<text class="lb" x="1455.9" y="347.3">09.250</text>
</g>
<path class="st" d="M822.0 22.0L822.0 35.6M816.1 25.4L827.9 32.2M827.9 25.4L816.1 32.2"/>
<path class="st" d="M949.3 41.7L949.3 55.3M943.4 45.1L955.2 51.9M955.2 45.1L943.4 51.9"/>
<path class="st" d="M769.4 63.6L769.4 77.2M763.5 67.0L775.3 73.8M775.3 67.0L763.5 73.8"/>
<path class="st" d="M706.6 92.3L706.6 105.9M700.7 95.7L712.5 102.5M712.5 95.7L700.7 102.5"/>
<path class="st" d="M645.7 131.1L645.7 144.7M639.8 134.5L651.6 141.3M651.6 134.5L639.8 141.3"/>
<path class="st" d="M595.9 175.4L595.9 189.0M590.0 178.8L601.8 185.6M601.8 178.8L590.0 185.6"/>
<path class="st" d="M949.3 134.7L949.3 148.3M943.4 138.1L955.2 144.9M955.2 138.1L943.4 144.9"/>
<path class="st" d="M1079.6 151.3L1079.6 164.9M1073.7 154.7L1085.5 161.5M1085.5 154.7L1073.7 161.5"/>
<path class="st" d="M891.5 178.8L891.5 192.4M885.6 182.2L897.4 189.0M897.4 182.2L885.6 189.0"/>
<path class="st" d="M827.9 207.7L827.9 221.3M822.0 211.1L833.8 217.9M833.8 211.1L822.0 217.9"/>
<path class="st" d="M767.0 247.8L767.0 261.4M761.1 251.2L772.9 258.0M772.9 251.2L761.1 258.0"/>
<path class="st" d="M715.4 292.5L715.4 306.1M709.5 295.9L721.3 302.7M721.3 295.9L709.5 302.7"/>
<path class="st" d="M630.9 295.7L630.9 309.3M625.0 299.1L636.8 305.9M636.8 299.1L625.0 305.9"/>
<path class="st" d="M399.7 234.0L399.7 247.6M393.8 237.4L405.6 244.2M405.6 237.4L393.8 244.2"/>
<path class="st" d="M486.7 321.8L486.7 335.4M480.8 325.2L492.6 332.0M492.6 325.2L480.8 332.0"/>
<path class="st" d="M818.0 492.2L818.0 505.8M812.1 495.6L823.9 502.4M823.9 495.6L812.1 502.4"/>
<path class="st" d="M922.2 489.5L922.2 503.1M916.3 492.9L928.1 499.7M928.1 492.9L916.3 499.7"/>
</svg>
</body></html>
